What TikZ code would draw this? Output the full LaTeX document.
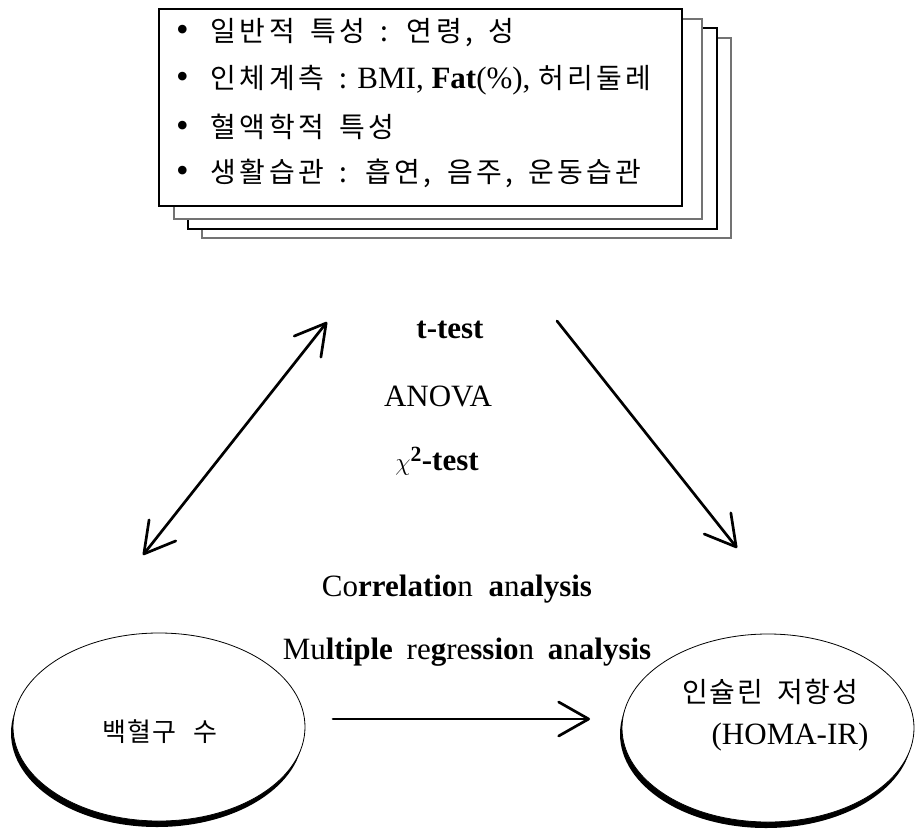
\documentclass[tikz,border=0pt]{standalone}
\usepackage{fontspec}
\setmainfont{Liberation Serif}
\newfontfamily\kr[WordSpace=1.6,LetterSpace=12]{Noto Sans CJK KR}
\newfontfamily\krb[WordSpace=2.5,LetterSpace=4]{Noto Sans CJK KR}
\newfontfamily\krc[WordSpace=1.8,LetterSpace=6]{Noto Sans CJK KR}
\usetikzlibrary{arrows.meta,shapes.geometric}
\newcommand{\bul}{{\fontsize{36}{30}\selectfont\textbullet}}
\newcommand{\krt}{\kr\fontsize{28}{30}\selectfont}
\tikzset{
  sheet/.style={draw=#1, fill=white, line width=1.2pt, inner sep=0pt},
  itemline/.style={anchor=west, inner sep=0pt, font=\fontsize{31}{34}\selectfont},
  lbl/.style={inner sep=0pt, font=\fontsize{31}{34}\selectfont},
  blob/.style={ellipse, draw, line width=0.8pt, fill=white, minimum width=292pt, minimum height=188pt, inner sep=0pt},
  blobshadow/.style={ellipse, fill=black, minimum width=292pt, minimum height=188pt, inner sep=0pt},
  arr/.style={line width=2.7pt, line cap=round, line join=round, >={Straight Barb[length=30pt, width=34pt, line join=round, line cap=round]}}
}
\begin{document}
\begin{tikzpicture}[x=1pt,y=-1pt]
\useasboundingbox (0,0) rectangle (917,829);
% stacked sheets
\node[sheet=black!55, minimum width=529pt, minimum height=200pt] (s4) at (466.5,138) {};
\node[sheet=black, minimum width=529pt, minimum height=201pt] (s3) at (452.5,128.5) {};
\node[sheet=black!55, minimum width=528pt, minimum height=200pt] (s2) at (438,119) {};
\node[sheet=black, minimum width=523pt, minimum height=197pt] (s1) at (420.5,107.5) {};
% items
\node[itemline] (i1) at (176,33) {\bul\hspace{22pt}{\krt 일반적 특성 : 연령, 성}};
\node[itemline] (i2) at (176,80) {\bul\hspace{22pt}{\krt 인체계측 :} BMI, \textbf{Fat}(\%), {\krt 허리둘레}};
\node[itemline] (i3) at (176,127) {\bul\hspace{22pt}{\krt 혈액학적 특성}};
\node[itemline] (i4) at (176,173) {\bul\hspace{22pt}{\krt 생활습관 : 흡연, 음주, 운동습관}};
% method labels
\node[lbl] (tt) at (450,330) {\textbf{t-test}};
\node[lbl] (an) at (438,396) {ANOVA};
\node[lbl] (ch) at (437,461) {$\chi^{\mathbf{2}}$\textbf{-test}};
\node[lbl] (co) at (457,589) {Co\textbf{rrelatio}n\hspace{8pt} \textbf{a}n\textbf{alysis}};
\node[lbl] (mr) at (467,652) {Mu\textbf{ltiple}\hspace{6pt} re\textbf{g}re\textbf{ssio}n\hspace{6pt} \textbf{a}n\textbf{alysis}};
% ellipses
\node[blobshadow] (wsh) at (157,733) {};
\node[blob] (wbc) at (159,727) {};
\node[lbl, font=\krb\fontsize{26}{30}\selectfont] (wt) at (160,732) {백혈구 수};
\node[blobshadow] (hsh) at (766,734) {};
\node[blob] (homa) at (768,728) {};
\node[lbl, font=\krc\fontsize{28}{30}\selectfont] (ht1) at (770,692) {인슐린 저항성};
\node[lbl, font=\fontsize{31}{34}\selectfont] (ht2) at (790,737) {(HOMA-IR)};
% arrows
\coordinate (a1) at (143,555);
\coordinate (a2) at (327,322);
\coordinate (b1) at (557,321);
\coordinate (b2) at (737,548);
\coordinate (c1) at (333,719);
\coordinate (c2) at (590,719);
\draw[arr, <->] (a1) -- (a2);
\draw[arr, ->] (b1) -- (b2);
\draw[arr, ->] (c1) -- (c2);
\end{tikzpicture}
\end{document}
